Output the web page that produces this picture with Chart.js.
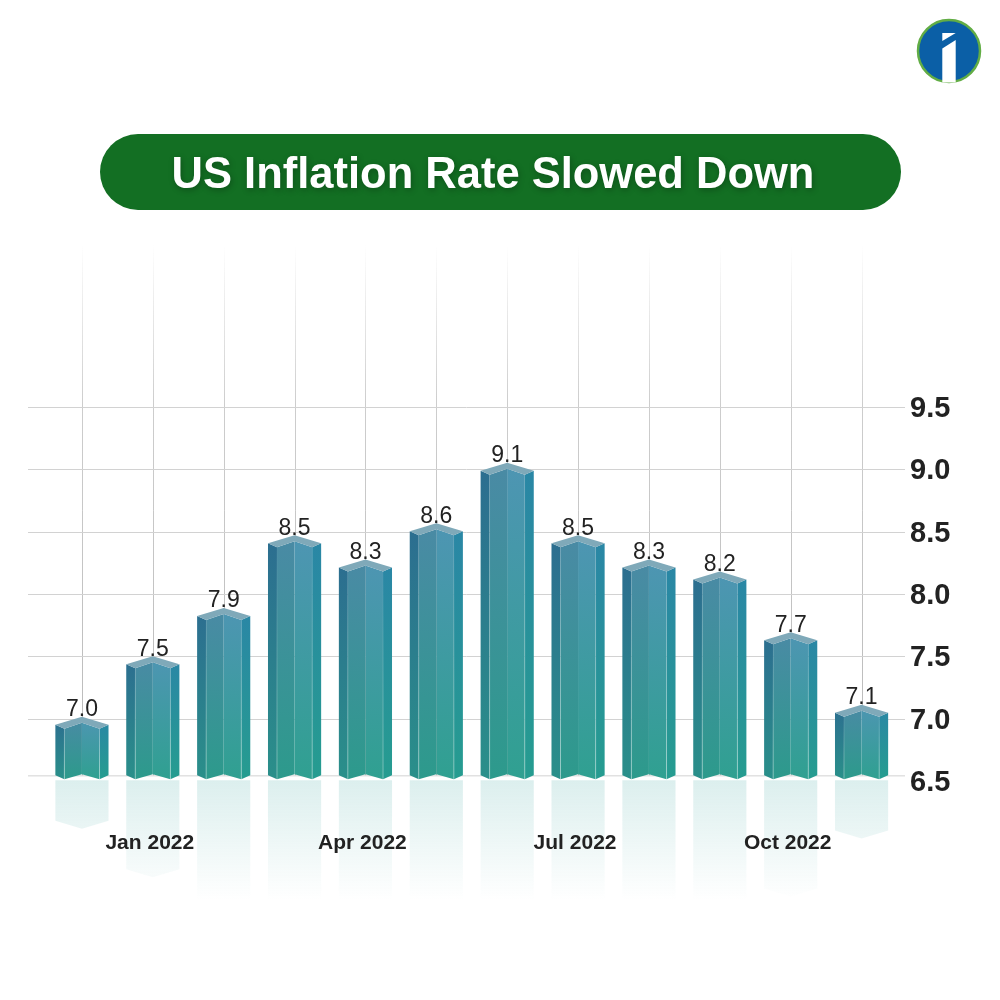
<!DOCTYPE html>
<html>
<head>
<meta charset="utf-8">
<title>US Inflation Rate Slowed Down</title>
<script src="https://cdn.jsdelivr.net/npm/chart.js@4"></script>
<style>
  body { margin: 0; background: #fff; width: 1000px; height: 1000px; position: relative; overflow: hidden; }
  canvas { position: absolute; left: 0; top: 0; }
  .pill {
    position: absolute; left: 100px; top: 134px; width: 801px; height: 76px; border-radius: 38px;
    background: #136f23; color: #fff; text-align: center; text-indent: -15px;
    font: bold 43.5px/79px "Liberation Sans", Arial, sans-serif; text-shadow: 1px 2px 6px rgba(0, 0, 0, .28);
  }
  .logo { position: absolute; left: 915px; top: 18px; }
</style>
</head>
<body>
<canvas id="myChart" width="1000" height="1000"></canvas>
<div class="pill">US Inflation Rate Slowed Down</div>
<svg class="logo" width="68" height="68" viewBox="0 0 68 68">
  <circle cx="34" cy="33" r="31" fill="#0b5fa6" stroke="#62ad45" stroke-width="2.5"/>
  <path d="M27.3 15 H40.7 L27.3 23 Z M40.7 22 L27.3 30.5 V64.5 H40.7 Z" fill="#fff"/>
</svg>
<script>
// dati
const categories = ["Dec 2021", "Jan 2022", "Feb 2022", "Mar 2022", "Apr 2022", "May 2022", "Jun 2022", "Jul 2022", "Aug 2022", "Sep 2022", "Oct 2022", "Nov 2022"];
const inflation = [7.0, 7.5, 7.9, 8.5, 8.3, 8.6, 9.1, 8.5, 8.3, 8.2, 7.7, 7.1];
const shownMonths = ["Jan 2022", "Apr 2022", "Jul 2022", "Oct 2022"];
const yTicks = [6.5, 7.0, 7.5, 8.0, 8.5, 9.0, 9.5];

const FONT = '"Liberation Sans", Arial, sans-serif';

function poly(ctx, pts, fill) {
  ctx.beginPath();
  pts.forEach((p, i) => (i ? ctx.lineTo(p[0], p[1]) : ctx.moveTo(p[0], p[1])));
  ctx.closePath();
  ctx.fillStyle = fill;
  ctx.fill();
}

function vGrad(ctx, y0, y1, c0, c1) {
  const g = ctx.createLinearGradient(0, y0, 0, y1);
  g.addColorStop(0, c0);
  g.addColorStop(1, c1);
  return g;
}

// griglia e riflessi sotto le barre
const backdrop = {
  id: "backdrop",
  beforeDraw(chart) {
    const { ctx, scales } = chart;
    const bars = chart.getDatasetMeta(0).data;
    const baseY = bars[0].base - 2;
    ctx.save();
    ctx.lineWidth = 1;
    // verticali, sfumano verso l'alto
    scales.x.ticks.forEach((t, i) => {
      const x = Math.round(scales.x.getPixelForTick(i)) + 0.5;
      const g = ctx.createLinearGradient(0, 245, 0, baseY);
      g.addColorStop(0, "rgba(200,200,200,0)");
      g.addColorStop(0.3, "rgba(205,205,205,1)");
      g.addColorStop(1, "rgba(185,185,185,1)");
      ctx.strokeStyle = g;
      ctx.beginPath();
      ctx.moveTo(x, 245);
      ctx.lineTo(x, baseY);
      ctx.stroke();
    });
    // orizzontali
    ctx.strokeStyle = "#d2d2d2";
    scales.y.ticks.forEach((t, i) => {
      const y = i === 0 ? baseY : Math.round(scales.y.getPixelForTick(i));
      ctx.beginPath();
      ctx.moveTo(28, y + 0.5);
      ctx.lineTo(905, y + 0.5);
      ctx.stroke();
    });
    // riflessi
    bars.forEach((b) => {
      const l = b.x - b.width / 2;
      const r = b.x + b.width / 2;
      const top = b.base + 3;
      const h = (b.base - b.y) * 0.8;
      poly(ctx, [[l, top], [r, top], [r, top + h - 8], [b.x, top + h], [l, top + h - 8]],
        vGrad(ctx, top, top + 120, "rgba(60,165,160,.18)", "rgba(60,165,160,0)"));
    });
    ctx.restore();
  },
  afterDatasetsDraw(chart) {
    const { ctx } = chart;
    const bars = chart.getDatasetMeta(0).data;
    ctx.save();
    bars.forEach((b, i) => {
      const l = b.x - b.width / 2;
      const r = b.x + b.width / 2;
      const l2 = l + 9;
      const r2 = r - 9;
      const t = b.y;
      const yb = b.base;
      // facce
      poly(ctx, [[l, t + 8], [l2, t + 12], [l2, yb + 2], [l, yb - 2]], vGrad(ctx, t, yb, "#2c6d90", "#2a8f8a"));
      poly(ctx, [[r2, t + 12], [r, t + 8], [r, yb - 2], [r2, yb + 2]], vGrad(ctx, t, yb, "#2a86a6", "#269c90"));
      poly(ctx, [[l2, t + 12], [b.x, t + 6], [b.x, yb - 3], [l2, yb + 2]], vGrad(ctx, t, yb, "#4a8aa5", "#2d9a8c"));
      poly(ctx, [[b.x, t + 6], [r2, t + 12], [r2, yb + 2], [b.x, yb - 3]], vGrad(ctx, t, yb, "#4e95b3", "#30a091"));
      poly(ctx, [[l, t + 8], [b.x, t], [r, t + 8], [r2, t + 12], [b.x, t + 6], [l2, t + 12]], "#7fa9b9");
      // filo chiaro sugli spigoli
      ctx.strokeStyle = vGrad(ctx, t, yb, "rgba(255,255,255,0)", "rgba(255,255,255,.35)");
      ctx.lineWidth = 1;
      [l2, r2].forEach((x) => {
        ctx.beginPath();
        ctx.moveTo(x, t + 12);
        ctx.lineTo(x, yb + 2);
        ctx.stroke();
      });
      // valore sopra la barra
      ctx.fillStyle = "#222";
      ctx.font = "23px " + FONT;
      ctx.textAlign = "center";
      ctx.textBaseline = "alphabetic";
      ctx.fillText(inflation[i].toFixed(1), b.x, t - 0.5);
    });
    ctx.restore();
  }
};

new Chart(document.getElementById("myChart"), {
  type: "bar",
  data: {
    labels: categories,
    datasets: [{
      data: inflation,
      yAxisID: "yBars",
      base: yTicks[0],
      backgroundColor: "rgba(0,0,0,0)",
      barPercentage: 0.75,
      categoryPercentage: 1
    }]
  },
  plugins: [backdrop],
  options: {
    responsive: false,
    animation: false,
    layout: { padding: { top: 407, left: 46.5 } },
    plugins: { legend: { display: false }, tooltip: { enabled: false } },
    scales: {
      x: {
        grid: { display: false },
        border: { display: false },
        afterFit(axis) { axis.height = 219; },
        ticks: {
          autoSkip: false,
          maxRotation: 0,
          padding: 42,
          labelOffset: -3,
          color: "#222",
          font: { family: FONT, weight: "bold", size: 21 },
          callback(v, i) { return shownMonths.includes(categories[i]) ? categories[i] : ""; }
        }
      },
      y: {
        position: "right",
        min: yTicks[0],
        max: yTicks[yTicks.length - 1],
        grid: { display: false },
        border: { display: false },
        afterFit(axis) { axis.width = 103; },
        afterBuildTicks(axis) { axis.ticks = yTicks.map((v) => ({ value: v })); },
        ticks: {
          padding: 5,
          labelOffset: 2,
          color: "#222",
          font: { family: FONT, weight: "bold", size: 29 },
          callback(v) { return Number(v).toFixed(1); }
        }
      },
      // le barre nell'originale hanno una scala un po' piu stretta della griglia
      yBars: { display: false, min: 6.47, max: 9.56 }
    }
  }
});
</script>
</body>
</html>
